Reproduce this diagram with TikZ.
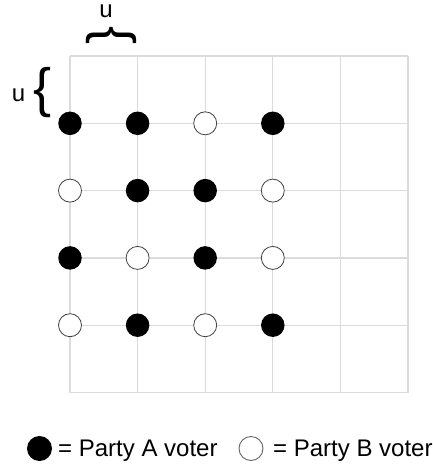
\documentclass[tikz,border=0pt]{standalone}
\usepackage{fontspec}
\setmainfont{Liberation Sans}
\begin{document}
\begin{tikzpicture}[x=1pt,y=-1pt,
  gridline/.style={draw=black!14,line width=1.3pt},
  adot/.style={circle,fill=black,inner sep=0pt,minimum size=23.5pt},
  bdot/.style={circle,draw=black!75,fill=white,line width=0.8pt,inner sep=0pt,minimum size=23pt},
  ladot/.style={circle,fill=black,inner sep=0pt,minimum size=25pt},
  lbdot/.style={circle,draw=black!60,fill=white,line width=0.9pt,inner sep=0pt,minimum size=24pt},
  lbl/.style={inner sep=0pt,font=\fontsize{24}{28}\selectfont},
  brace/.style={inner sep=0pt,font=\fontsize{54}{60}\selectfont}]
\useasboundingbox (0,0) rectangle (433,467);
% grid
\foreach \i in {0,...,5}{
  \draw[gridline] ({70+\i*67.6},56) -- ({70+\i*67.6},392.5);
  \draw[gridline] (70,{56+\i*67.3}) -- (408,{56+\i*67.3});
}
% dots
\node[adot] (r1c1) at ({70+0*67.6},{56+1*67.3}) {};
\node[adot] (r1c2) at ({70+1*67.6},{56+1*67.3}) {};
\node[bdot] (r1c3) at ({70+2*67.6},{56+1*67.3}) {};
\node[adot] (r1c4) at ({70+3*67.6},{56+1*67.3}) {};
\node[bdot] (r2c1) at ({70+0*67.6},{56+2*67.3}) {};
\node[adot] (r2c2) at ({70+1*67.6},{56+2*67.3}) {};
\node[adot] (r2c3) at ({70+2*67.6},{56+2*67.3}) {};
\node[bdot] (r2c4) at ({70+3*67.6},{56+2*67.3}) {};
\node[adot] (r3c1) at ({70+0*67.6},{56+3*67.3}) {};
\node[bdot] (r3c2) at ({70+1*67.6},{56+3*67.3}) {};
\node[adot] (r3c3) at ({70+2*67.6},{56+3*67.3}) {};
\node[bdot] (r3c4) at ({70+3*67.6},{56+3*67.3}) {};
\node[bdot] (r4c1) at ({70+0*67.6},{56+4*67.3}) {};
\node[adot] (r4c2) at ({70+1*67.6},{56+4*67.3}) {};
\node[bdot] (r4c3) at ({70+2*67.6},{56+4*67.3}) {};
\node[adot] (r4c4) at ({70+3*67.6},{56+4*67.3}) {};
% braces and labels
\node[brace,rotate=-90] (hbrace) at (111,35.5) {\{};
\node[lbl,anchor=base] (hu) at (106,17.5) {u};
\node[brace] (vbrace) at (42.5,92.5) {\{};
\node[lbl,anchor=base] (vu) at (18.5,101) {u};
% legend
\node[ladot] (legA) at (39.5,448.5) {};
\node[lbl,anchor=base west] (legAt) at (58,456.7) {= Party A voter};
\node[lbdot] (legB) at (251,448.5) {};
\node[lbl,anchor=base west] (legBt) at (273,456.7) {= Party B voter};
\end{tikzpicture}
\end{document}
